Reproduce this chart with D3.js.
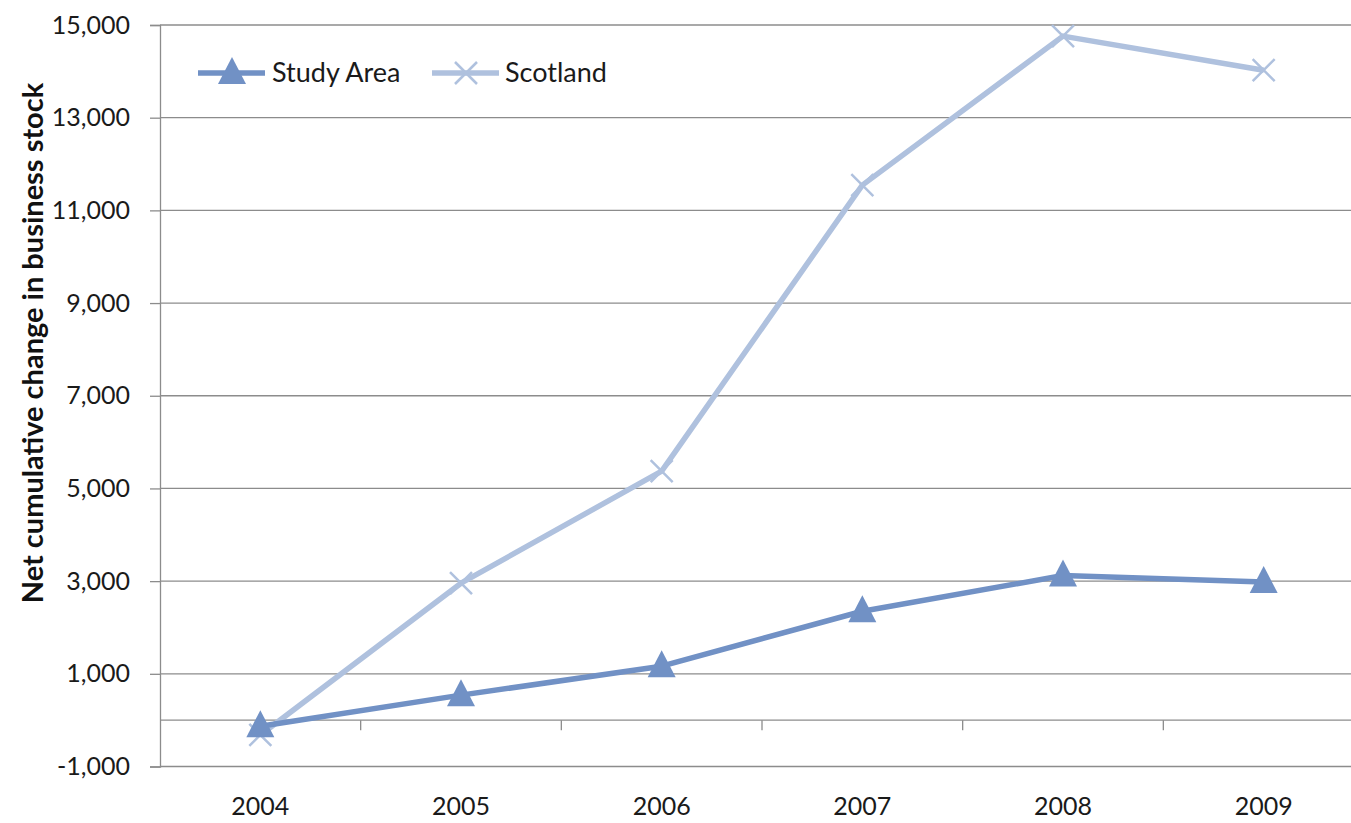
<!DOCTYPE html>
<html>
<head>
<meta charset="utf-8">
<script src="https://cdn.jsdelivr.net/npm/d3@7"></script>
<style>
  body { margin: 0; background: #fff; }
  svg { display: block; }
</style>
</head>
<body>
<script>
// data
var years = ['2004', '2005', '2006', '2007', '2008', '2009']
var studyArea = [-130, 540, 1165, 2350, 3120, 2980]
var scotland = [-320, 2955, 5375, 11545, 14760, 14025]
var yTicks = [-1000, 1000, 3000, 5000, 7000, 9000, 11000, 13000, 15000]

var W = 1351, H = 823
var margin = { top: 25, left: 160 }
var plotRight = 1364, plotBottom = 766.5
var font = 'Lato, "Open Sans", sans-serif'
var gridColor = '#8c8c8c'
var studyColor = '#7191c5'
var scotColor = '#afc1de'

var svg = d3.select('body').append('svg').attr('width', W).attr('height', H)

var x = d3.scaleBand().domain(years).range([margin.left, plotRight])
var cx = function(d) { return x(d) + x.bandwidth() / 2 }
var y = d3.scaleLinear().domain([-1000, 15000]).range([plotBottom, margin.top])

// plain hyphen for negatives, like the original
var fmt = d3.formatLocale({ decimal: '.', thousands: ',', grouping: [3], currency: ['', ''], minus: '-' }).format(',')

// gridlines + y ticks
var yAxis = svg.append('g').attr('transform', `translate(${margin.left},0)`)
	.call(d3.axisLeft(y).tickValues(yTicks).tickSize(10).tickPadding(20).tickFormat(fmt))
yAxis.select('.domain').attr('stroke', gridColor).attr('stroke-width', 1.3)
yAxis.selectAll('.tick line').attr('stroke', gridColor).attr('stroke-width', 1.3)
yAxis.selectAll('.tick text').attr('font-family', font).attr('font-size', 25).attr('fill', '#1a1a1a')

svg.append('g').selectAll('line').data(yTicks).enter().append('line')
	.attr('x1', margin.left).attr('x2', plotRight)
	.attr('y1', function(d) { return y(d) }).attr('y2', function(d) { return y(d) })
	.attr('stroke', gridColor).attr('stroke-width', 1.3)

// category axis sits on zero
var xAxis = svg.append('g').attr('transform', `translate(0,${y(0)})`)
xAxis.append('line').attr('x1', margin.left).attr('x2', plotRight)
	.attr('stroke', gridColor).attr('stroke-width', 1.3)
xAxis.selectAll('line.tk').data(years.slice(1)).enter().append('line').attr('class', 'tk')
	.attr('x1', function(d) { return x(d) }).attr('x2', function(d) { return x(d) })
	.attr('y1', 0).attr('y2', 10)
	.attr('stroke', gridColor).attr('stroke-width', 1.3)

svg.append('g').selectAll('text').data(years).enter().append('text')
	.attr('x', cx).attr('y', 815)
	.attr('text-anchor', 'middle')
	.attr('font-family', font).attr('font-size', 25).attr('fill', '#1a1a1a')
	.text(function(d) { return d })

// y title
svg.append('text')
	.attr('transform', `translate(43,${343}) rotate(-90)`)
	.attr('text-anchor', 'middle')
	.attr('font-family', font).attr('font-size', 29).attr('font-weight', 'bold').attr('fill', '#111')
	.text('Net cumulative change in business stock')

var line = d3.line().x(function(d, i) { return cx(years[i]) }).y(function(d) { return y(d) })

var tri = 'M0,-16L14,11L-14,11Z'
var cross = function(s) {
	return `M${-s},${-s}L${s},${s}M${-s},${s}L${s},${-s}`
}

// Scotland
svg.append('path').datum(scotland).attr('d', line)
	.attr('fill', 'none').attr('stroke', scotColor).attr('stroke-width', 5.5).attr('stroke-linejoin', 'round')
svg.append('g').selectAll('path').data(scotland).enter().append('path')
	.attr('transform', function(d, i) { return `translate(${cx(years[i])},${y(d)})` })
	.attr('d', cross(11)).attr('stroke', scotColor).attr('stroke-width', 2.5).attr('fill', 'none')

// Study Area
svg.append('path').datum(studyArea).attr('d', line)
	.attr('fill', 'none').attr('stroke', studyColor).attr('stroke-width', 5.5).attr('stroke-linejoin', 'round')
svg.append('g').selectAll('path').data(studyArea).enter().append('path')
	.attr('transform', function(d, i) { return `translate(${cx(years[i])},${y(d)})` })
	.attr('d', tri).attr('fill', studyColor)

// legend
var legend = svg.append('g')
var lg1 = legend.append('g').attr('transform', 'translate(198,73)')
lg1.append('line').attr('x1', 0).attr('x2', 67).attr('stroke', studyColor).attr('stroke-width', 5.5)
lg1.append('path').attr('transform', 'translate(34,0)').attr('d', tri).attr('fill', studyColor)
lg1.append('text').attr('x', 74).attr('y', 9).attr('font-family', font).attr('font-size', 27).attr('fill', '#1a1a1a').text('Study Area')

var lg2 = legend.append('g').attr('transform', 'translate(432,73)')
lg2.append('line').attr('x1', 0).attr('x2', 67).attr('stroke', scotColor).attr('stroke-width', 5.5)
lg2.append('path').attr('transform', 'translate(34,0)').attr('d', cross(11)).attr('stroke', scotColor).attr('stroke-width', 2.5)
lg2.append('text').attr('x', 73).attr('y', 9).attr('font-family', font).attr('font-size', 27).attr('fill', '#1a1a1a').text('Scotland')
</script>
</body>
</html>
